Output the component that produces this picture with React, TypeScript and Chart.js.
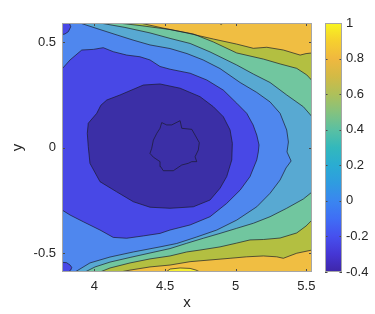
import React, { useEffect, useRef } from 'react';
import { Chart, registerables } from 'chart.js';

Chart.register(...registerables);

type P = [number, number];

// axis limits and ticks
const X_MIN = 3.77;
const X_MAX = 5.54;
const Y_MIN = -0.59;
const Y_MAX = 0.59;
const C_MIN = -0.4;
const C_MAX = 1;
const X_TICKS = [4, 4.5, 5, 5.5];
const Y_TICKS = [-0.5, 0, 0.5];
const CB_TICKS = [-0.4, -0.2, 0, 0.2, 0.4, 0.6, 0.8, 1];

// contour levels and the fill colour of the band starting at each level
const LEVELS = [-0.4, -0.2, 0, 0.2, 0.4, 0.6, 0.8, 1];
const BAND_COLORS = ['#3b2fa6', '#4848e6', '#4f87ee', '#58a9d2', '#71c69f', '#b3bf41', '#f0be42', '#f6ee32'];

// contour lines (x, y)
const C08_TOP: P[] = [
  [4.322, 0.59], [4.464, 0.569], [4.653, 0.543], [4.842, 0.514], [5.007, 0.49], [5.125, 0.47],
  [5.22, 0.475], [5.337, 0.462], [5.456, 0.438], [5.498, 0.445], [5.54, 0.448],
];
const C08_BOT: P[] = [
  [5.54, -0.486], [5.432, -0.501], [5.337, -0.525], [5.29, -0.518], [5.196, -0.514], [5.078, -0.518],
  [4.96, -0.525], [4.818, -0.533], [4.677, -0.541], [4.535, -0.557], [4.393, -0.566], [4.252, -0.581],
  [4.181, -0.59],
];
const C06_TOP: P[] = [
  [4.167, 0.59], [4.322, 0.578], [4.535, 0.559], [4.7, 0.538], [4.842, 0.5], [5.007, 0.448],
  [5.196, 0.419], [5.314, 0.396], [5.432, 0.375], [5.503, 0.344], [5.54, 0.317],
];
const C06_BOT: P[] = [
  [5.54, -0.344], [5.498, -0.372], [5.432, -0.405], [5.314, -0.429], [5.196, -0.436], [5.101, -0.438],
  [5.007, -0.453], [4.889, -0.471], [4.747, -0.486], [4.653, -0.495], [4.535, -0.514], [4.393, -0.528],
  [4.252, -0.547], [4.11, -0.571], [4.039, -0.59],
];
const C04_TOP: P[] = [
  [4.039, 0.59], [4.216, 0.569], [4.393, 0.543], [4.535, 0.517], [4.677, 0.493], [4.818, 0.453],
  [5.007, 0.391], [5.125, 0.348], [5.243, 0.308], [5.361, 0.249], [5.479, 0.193], [5.54, 0.146],
];
const C04_BOT: P[] = [
  [5.54, -0.211], [5.479, -0.244], [5.361, -0.288], [5.243, -0.328], [5.125, -0.359], [5.007, -0.383],
  [4.889, -0.407], [4.771, -0.43], [4.653, -0.454], [4.535, -0.479], [4.393, -0.5], [4.252, -0.521],
  [4.11, -0.543], [4.004, -0.566], [3.933, -0.59],
];
const C02: P[] = [
  [3.897, 0.59], [4.039, 0.559], [4.16, 0.533], [4.273, 0.509], [4.393, 0.486], [4.535, 0.469],
  [4.655, 0.445], [4.769, 0.415], [4.889, 0.374], [5.031, 0.308], [5.149, 0.261], [5.243, 0.216],
  [5.314, 0.162], [5.361, 0.083], [5.373, 0.026], [5.363, -0.021], [5.392, -0.064], [5.356, -0.097],
  [5.314, -0.154], [5.243, -0.217], [5.149, -0.281], [5.007, -0.344], [4.866, -0.391], [4.724, -0.424],
  [4.582, -0.455], [4.464, -0.471], [4.275, -0.495], [4.11, -0.519], [3.968, -0.547], [3.862, -0.59],
];
const C00: P[] = [
  [3.77, 0.372], [3.827, 0.415], [3.91, 0.462], [3.992, 0.465], [4.062, 0.473], [4.133, 0.454],
  [4.228, 0.438], [4.322, 0.43], [4.393, 0.415], [4.464, 0.384], [4.535, 0.371], [4.677, 0.352],
  [4.795, 0.32], [4.912, 0.272], [5.007, 0.21], [5.078, 0.162], [5.123, 0.107], [5.149, 0.059],
  [5.165, 0.012], [5.16, -0.021], [5.149, -0.059], [5.101, -0.138], [5.031, -0.202], [4.936, -0.265],
  [4.818, -0.328], [4.677, -0.367], [4.535, -0.391], [4.464, -0.407], [4.346, -0.419], [4.228, -0.43],
  [4.133, -0.426], [4.039, -0.391], [3.921, -0.352], [3.827, -0.32], [3.77, -0.296],
];
const C00_TL: P[] = [[3.822, 0.59], [3.832, 0.572], [3.815, 0.549], [3.791, 0.538], [3.77, 0.535]];
const C00_BL: P[] = [
  [3.77, -0.544], [3.803, -0.546], [3.827, -0.557], [3.839, -0.568], [3.832, -0.581], [3.815, -0.589], [3.806, -0.59],
];
const CM02: P[] = [
  [3.956, 0.115], [4.016, 0.162], [4.045, 0.2], [4.087, 0.225], [4.181, 0.249], [4.346, 0.296],
  [4.464, 0.301], [4.606, 0.281], [4.747, 0.241], [4.842, 0.193], [4.912, 0.146], [4.96, 0.083],
  [4.976, 0.02], [4.972, -0.059], [4.936, -0.138], [4.889, -0.193], [4.818, -0.249], [4.7, -0.281],
  [4.535, -0.288], [4.393, -0.283], [4.275, -0.257], [4.157, -0.21], [4.039, -0.162], [3.968, -0.075],
  [3.956, 0.004], [3.949, 0.067], [3.956, 0.115],
];
const CM04: P[] = [
  [4.476, 0.118], [4.511, 0.107], [4.547, 0.107], [4.606, 0.127], [4.618, 0.091], [4.689, 0.086],
  [4.712, 0.059], [4.742, 0.023], [4.735, -0.012], [4.712, -0.044], [4.724, -0.067], [4.689, -0.067],
  [4.664, -0.075], [4.618, -0.083], [4.558, -0.11], [4.487, -0.11], [4.469, -0.091], [4.464, -0.067],
  [4.417, -0.046], [4.393, -0.028], [4.405, -0.004], [4.417, 0.035], [4.441, 0.067], [4.464, 0.091],
  [4.476, 0.118],
];
const C10_BOT: P[] = [[4.507, -0.59], [4.535, -0.576], [4.606, -0.571], [4.677, -0.573], [4.719, -0.581], [4.747, -0.59]];
const C10_TOP: P[] = [[4.88, 0.59], [4.897, 0.583], [4.912, 0.59]];

const LINE_COLOR = 'rgba(25,25,40,0.9)';
const TEXT_COLOR = '#262626';
const FONT = '"Liberation Sans", Arial, Helvetica, sans-serif';

const band = (level: number) => BAND_COLORS[LEVELS.indexOf(level)];
const TL: P = [X_MIN, Y_MAX];
const TR: P = [X_MAX, Y_MAX];
const BR: P = [X_MAX, Y_MIN];
const BL: P = [X_MIN, Y_MIN];

const FILLS: { pts: P[]; color: string }[] = [
  { pts: [TL, TR, BR, BL], color: band(0.8) },
  { pts: [TL, ...C08_TOP, ...C08_BOT, BL], color: band(0.6) },
  { pts: [TL, ...C06_TOP, ...C06_BOT, BL], color: band(0.4) },
  { pts: [TL, ...C04_TOP, ...C04_BOT, BL], color: band(0.2) },
  { pts: [TL, ...C02, BL], color: band(0) },
  { pts: C00, color: band(-0.2) },
  { pts: [...C00_TL, TL], color: band(-0.2) },
  { pts: [...C00_BL, BL], color: band(-0.2) },
  { pts: CM02, color: band(-0.4) },
  { pts: C10_BOT, color: band(1) },
  { pts: C10_TOP, color: band(1) },
];
const LINES: P[][] = [C08_TOP, C08_BOT, C06_TOP, C06_BOT, C04_TOP, C04_BOT, C02, C00, C00_TL, C00_BL, CM02, CM04, C10_BOT, C10_TOP];

// parula-like colour bar stops
const CB_STOPS: [number, string][] = [
  [-0.4, '#3e26a8'], [-0.3, '#4536d4'], [-0.2, '#4650ee'], [-0.1, '#3f6ef5'], [0, '#3a86f0'],
  [0.1, '#2f9ce0'], [0.2, '#2aacd2'], [0.3, '#33b8bc'], [0.4, '#5ac0a2'], [0.5, '#85c27e'],
  [0.6, '#aec05a'], [0.7, '#d3ba45'], [0.8, '#f0b83f'], [0.9, '#f6d02e'], [1, '#f8f620'],
];

const decor = {
  id: 'decor',
  afterDatasetsDraw(chart: any) {
    const { ctx, chartArea: a, scales } = chart;
    const xs = scales.x;
    const ys = scales.y;
    const cb = scales.cb;
    ctx.save();
    // inward ticks
    ctx.strokeStyle = '#4a4a4a';
    ctx.lineWidth = 1;
    ctx.beginPath();
    for (const v of X_TICKS) {
      const px = Math.round(xs.getPixelForValue(v)) + 0.5;
      ctx.moveTo(px, a.bottom);
      ctx.lineTo(px, a.bottom - 3);
      ctx.moveTo(px, a.top);
      ctx.lineTo(px, a.top + 3);
    }
    for (const v of Y_TICKS) {
      const py = Math.round(ys.getPixelForValue(v)) + 0.5;
      ctx.moveTo(a.left, py);
      ctx.lineTo(a.left + 3, py);
      ctx.moveTo(a.right, py);
      ctx.lineTo(a.right - 3, py);
    }
    ctx.stroke();
    // frame
    ctx.strokeStyle = '#a6a6a6';
    ctx.strokeRect(a.left + 0.5, a.top + 0.5, a.right - a.left - 1, a.bottom - a.top - 1);
    // colour bar
    const x0 = a.right + 13;
    const w = 17;
    const top = cb.getPixelForValue(C_MAX);
    const bot = cb.getPixelForValue(C_MIN);
    const g = ctx.createLinearGradient(0, bot, 0, top);
    for (const [v, c] of CB_STOPS) g.addColorStop((v - C_MIN) / (C_MAX - C_MIN), c);
    ctx.fillStyle = g;
    ctx.fillRect(x0, top, w, bot - top);
    ctx.strokeStyle = '#4a4a4a';
    ctx.beginPath();
    for (const v of CB_TICKS) {
      const py = Math.round(cb.getPixelForValue(v)) + 0.5;
      ctx.moveTo(x0, py);
      ctx.lineTo(x0 + 2.5, py);
      ctx.moveTo(x0 + w, py);
      ctx.lineTo(x0 + w - 2.5, py);
    }
    ctx.stroke();
    ctx.strokeStyle = '#a6a6a6';
    ctx.strokeRect(x0 + 0.5, top + 0.5, w - 1, bot - top - 1);
    ctx.restore();
  },
};

const tickFont = { family: FONT, size: 13 };
const titleFont = { family: FONT, size: 15 };

export default function App() {
  const ref = useRef<HTMLCanvasElement>(null);
  useEffect(() => {
    if (!ref.current) return;
    const toXY = (pts: P[]) => pts.map(([x, y]) => ({ x, y }));
    const datasets: any[] = [
      ...FILLS.map((f, i) => ({
        data: toXY(f.pts),
        fill: 'shape',
        backgroundColor: f.color,
        borderColor: 'transparent',
        borderWidth: 0,
        pointRadius: 0,
        pointHoverRadius: 0,
        tension: 0,
        order: 1000 - i,
      })),
      ...LINES.map((l, i) => ({
        data: toXY(l),
        fill: false,
        borderColor: LINE_COLOR,
        borderWidth: 0.75,
        pointRadius: 0,
        pointHoverRadius: 0,
        tension: 0,
        order: 100 - i,
      })),
    ];
    const chart = new Chart(ref.current, {
      type: 'line',
      data: { datasets },
      plugins: [decor],
      options: {
        responsive: false,
        animation: false,
        events: [],
        layout: { padding: { top: 23, left: 0, right: 0, bottom: 0 } },
        plugins: { legend: { display: false }, tooltip: { enabled: false } },
        scales: {
          x: {
            type: 'linear',
            min: X_MIN,
            max: X_MAX,
            grid: { display: false, drawTicks: false },
            border: { display: false },
            afterBuildTicks: (s: any) => { s.ticks = X_TICKS.map((v) => ({ value: v })); },
            afterFit: (s: any) => { s.height = 42; s.paddingLeft = 0; s.paddingRight = 0; },
            ticks: { font: tickFont, color: TEXT_COLOR, padding: 7, maxRotation: 0, autoSkip: false, callback: (v: any) => String(v) },
            title: { display: true, text: 'x', font: titleFont, color: TEXT_COLOR, padding: { top: 0, bottom: 2 } },
          },
          y: {
            type: 'linear',
            position: 'left',
            min: Y_MIN,
            max: Y_MAX,
            grid: { display: false, drawTicks: false },
            border: { display: false },
            afterBuildTicks: (s: any) => { s.ticks = Y_TICKS.map((v) => ({ value: v })); },
            afterFit: (s: any) => { s.width = 62; s.paddingTop = 0; s.paddingBottom = 0; },
            ticks: { font: tickFont, color: TEXT_COLOR, padding: 6, autoSkip: false, callback: (v: any) => String(v) },
            title: { display: true, text: 'y', font: titleFont, color: TEXT_COLOR, padding: { top: 9, bottom: 0 } },
          },
          cb: {
            type: 'linear',
            position: 'right',
            min: C_MIN,
            max: C_MAX,
            grid: { display: false, drawTicks: false },
            border: { display: false },
            afterBuildTicks: (s: any) => { s.ticks = CB_TICKS.map((v) => ({ value: v })); },
            afterFit: (s: any) => { s.width = 63; s.paddingTop = 0; s.paddingBottom = 0; },
            ticks: { font: tickFont, color: TEXT_COLOR, padding: 34, autoSkip: false, callback: (v: any) => String(v) },
          },
        },
      } as any,
    });
    return () => chart.destroy();
  }, []);
  return (
    <div style={{ position: 'absolute', left: 0, top: 0, width: 375, height: 314, background: '#fff' }}>
      <canvas ref={ref} width={375} height={314} style={{ display: 'block' }} />
    </div>
  );
}
